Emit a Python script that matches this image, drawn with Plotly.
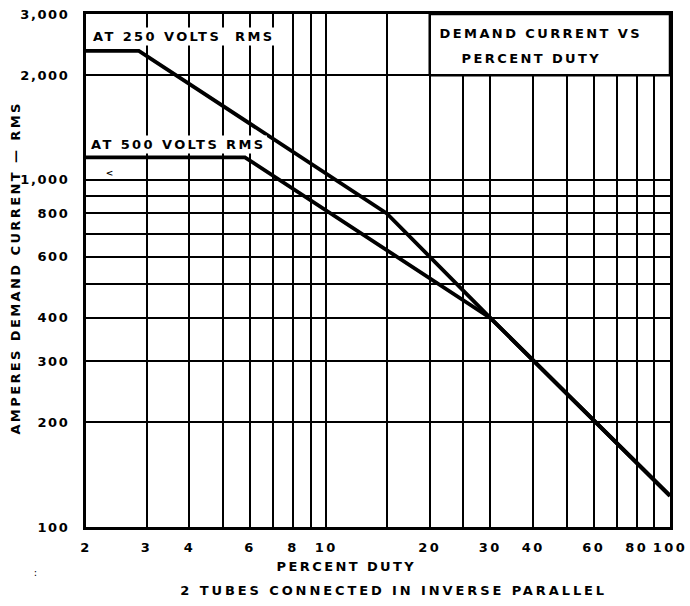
import math
import plotly.graph_objects as go

# ---- data ----
duty_250 = [2, 2.85, 15, 30, 100]
amps_250 = [2350, 2350, 800, 400, 123]

duty_500 = [2, 5.8, 30, 100]
amps_500 = [1160, 1160, 400, 123]

x_grid = [2, 3, 4, 5, 6, 7, 8, 9, 10, 15, 20, 25, 30, 40, 50, 60, 70, 80, 90, 100]
x_labels = ["2", "3", "4", "", "6", "", "8", "", "10", "", "20", "", "30", "40", "", "60", "", "80", "", "100"]

y_grid = [100, 200, 300, 400, 500, 600, 700, 800, 900, 1000, 2000, 3000]
y_labels = ["100", "200", "300", "400", "", "600", "", "800", "", "1,000", "2,000", "3,000"]

box_x = [20, 100]
box_y = [2000, 3000]

FONT = "DejaVu Sans"
BLACK = "#000000"
LETTER_SPACING = 2.4

fig = go.Figure()

# title box (white, covers the grid in the upper right)
fig.add_trace(go.Scatter(
    x=[box_x[0], box_x[1], box_x[1], box_x[0], box_x[0]],
    y=[box_y[0], box_y[0], box_y[1], box_y[1], box_y[0]],
    mode="lines", fill="toself", fillcolor="white",
    line=dict(color=BLACK, width=2.5), hoverinfo="skip", showlegend=False))

fig.add_trace(go.Scatter(x=duty_250, y=amps_250, mode="lines",
                         line=dict(color=BLACK, width=3.8), showlegend=False))
fig.add_trace(go.Scatter(x=duty_500, y=amps_500, mode="lines",
                         line=dict(color=BLACK, width=3.8), showlegend=False))

tfont = dict(family=FONT, size=13, color=BLACK, weight="bold")

fig.add_annotation(x=math.log10(2), y=math.log10(2590), xref="x", yref="y",
                   text="AT 250 VOLTS  RMS", showarrow=False, xanchor="left", align="left",
                   xshift=5, font=tfont, bgcolor="white", borderpad=1)
fig.add_annotation(x=math.log10(2), y=math.log10(1267), xref="x", yref="y",
                   text="AT 500 VOLTS RMS", showarrow=False, xanchor="left", align="left",
                   xshift=3, font=tfont, bgcolor="white", borderpad=1)
fig.add_annotation(x=math.log10(2), y=math.log10(1045), xref="x", yref="y",
                   text="<", showarrow=False, xanchor="left", xshift=19,
                   font=dict(family=FONT, size=9, color=BLACK, weight="bold"))

fig.add_annotation(x=math.log10(42.2), y=math.log10(2645), xref="x", yref="y",
                   text="DEMAND CURRENT VS", showarrow=False, font=tfont)
fig.add_annotation(x=math.log10(39.6), y=math.log10(2240), xref="x", yref="y",
                   text="PERCENT DUTY", showarrow=False, font=tfont)

fig.add_annotation(x=346, y=566, xref="paper", yref="paper",
                   text="PERCENT DUTY", showarrow=False, font=tfont)
fig.add_annotation(x=393, y=590, xref="paper", yref="paper",
                   text="2 TUBES CONNECTED IN INVERSE PARALLEL", showarrow=False, font=tfont)
fig.add_annotation(x=15, y=268, xref="paper", yref="paper",
                   text="AMPERES DEMAND CURRENT — RMS", showarrow=False,
                   textangle=-90, font=tfont)
fig.add_annotation(x=36, y=572, xref="paper", yref="paper",
                   text=":", showarrow=False, font=dict(family=FONT, size=10, color=BLACK))

# convert pixel-positioned paper annotations
W, H = 690, 606
ML, MR, MT, MB = 86, 20, 14, 79
pw, ph = W - ML - MR, H - MT - MB
for a in fig.layout.annotations:
    if a.xref == "paper":
        a.x = (a.x - ML) / pw
        a.y = 1 - (a.y - MT) / ph
        a.xanchor = "center"
        a.yanchor = "middle"

axis_common = dict(
    showgrid=True, gridcolor=BLACK, gridwidth=2,
    showline=True, linecolor=BLACK, linewidth=3, mirror=True,
    zeroline=False, ticks="", automargin=False,
    tickfont=dict(family=FONT, size=13, color=BLACK, weight="bold"),
    tickmode="array",
)

fig.update_xaxes(type="log", range=[math.log10(2), 2], tickvals=x_grid, ticktext=x_labels,
                 ticklabelstandoff=6, **axis_common)
fig.update_yaxes(type="log", range=[2, math.log10(3000)], tickvals=y_grid, ticktext=y_labels,
                 ticklabelstandoff=11, **axis_common)

fig.update_layout(
    width=W, height=H,
    margin=dict(l=ML, r=MR, t=MT, b=MB, autoexpand=False),
    paper_bgcolor="white", plot_bgcolor="white",
    showlegend=False,
)

# page without body margin; widen the lettering like the stencil lettering of the original
post = """
document.body.style.margin = '0';
document.body.style.padding = '0';
var gd = document.getElementById('{plot_id}');
var LS = %s;
gd.querySelectorAll('text').forEach(function(t){ t.style.letterSpacing = LS + 'px'; });
gd.querySelectorAll('.ytick text').forEach(function(t){ t.style.letterSpacing = '1.6px'; });
gd.querySelectorAll('g.annotation text').forEach(function(t){
  if (t.textContent.indexOf('TUBES') >= 0) t.style.letterSpacing = '2.9px';
});
gd.querySelectorAll('g.annotation').forEach(function(g){
  var r = g.querySelector('rect.bg'); var t = g.querySelector('text');
  if (!r || !t) return;
  var f = r.style.fill || '';
  if (f.indexOf('255, 255, 255') < 0) return;
  var w = parseFloat(r.getAttribute('width')) || 0;
  r.setAttribute('width', w + t.textContent.length * LS);
});
""" % LETTER_SPACING

fig.write_html("out.html", post_script=post, config={"displayModeBar": False})
